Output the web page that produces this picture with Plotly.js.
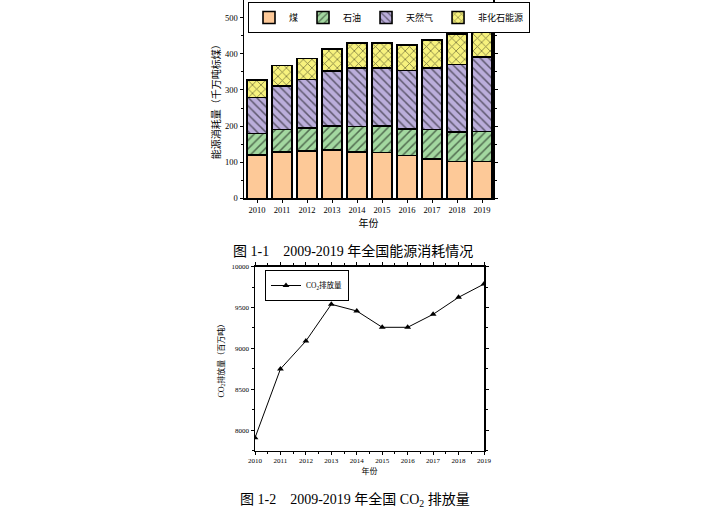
<!DOCTYPE html>
<html>
<head>
<meta charset="utf-8">
<script src="https://cdn.plot.ly/plotly-3.0.1.min.js"></script>
<style>html,body{margin:0;padding:0;background:#fff;}#chart{width:715px;height:518px;}</style>
</head>
<body>
<div id="chart"></div>
<script>
// Figure 1-1: energy consumption (ten-million tonnes of standard coal)
const years = ['2010','2011','2012','2013','2014','2015','2016','2017','2018','2019'];
const coal    = [120, 129, 131, 133, 129, 127, 118, 109, 102, 102];
const oil     = [59, 61, 63, 68, 70, 74, 74, 81, 81, 83];
const gas     = [100, 121, 135, 151, 162, 160, 162, 171, 187, 206];
const nonFossil = [48, 57, 58, 62, 69, 69, 70, 78, 85, 88];
const seriesNames = ['煤', '石油', '天然气', '非化石能源'];

// Figure 1-2: CO2 emissions (million tonnes)
const co2Years = [2010, 2011, 2012, 2013, 2014, 2015, 2016, 2017, 2018, 2019];
const co2 = [7905, 8748, 9090, 9540, 9458, 9258, 9258, 9417, 9625, 9788];

const serif = 'Liberation Serif, Times New Roman, Noto Sans CJK SC, serif';

function barTrace(name, vals, color, shape) {
  return {
    type: 'bar', name: name, x: years, y: vals, xaxis: 'x', yaxis: 'y',
    width: 0.8,
    marker: {
      color: color,
      line: {color: '#000', width: 1.6},
      pattern: shape ? {shape: shape, fillmode: 'overlay', fgcolor: '#000', size: 6, solidity: 0.25} : undefined
    },
    legend: 'legend'
  };
}

const traces = [
  barTrace(seriesNames[0], coal, '#FDC998', ''),
  barTrace(seriesNames[1], oil, '#A3D8A0', '/'),
  barTrace(seriesNames[2], gas, '#BBAEDB', '\\'),
  barTrace(seriesNames[3], nonFossil, '#F7F27E', 'x'),
  {
    type: 'scatter', mode: 'lines+markers', name: 'CO<sub>2</sub>排放量',
    x: co2Years, y: co2, xaxis: 'x2', yaxis: 'y2',
    line: {color: '#000', width: 1},
    marker: {symbol: 'triangle-up', size: 6, color: '#000'},
    legend: 'legend2'
  }
];

const layout = {
  width: 715, height: 518,
  margin: {l: 0, r: 0, t: 0, b: 0},
  paper_bgcolor: '#fff', plot_bgcolor: '#fff',
  font: {family: serif, color: '#000', size: 9},
  barmode: 'stack',
  bargap: 0.2,
  xaxis: {
    domain: [244/715, 493/715], anchor: 'y', type: 'category',
    range: [-0.52, 9.44],
    showline: true, linecolor: '#000', linewidth: 1.5, mirror: 'ticks',
    ticks: 'outside', ticklen: 3, tickwidth: 1, tickcolor: '#000',
    tickfont: {size: 8.5, family: serif},
    title: {text: '年份', font: {size: 10, family: serif}, standoff: 6},
    showgrid: false, zeroline: false
  },
  yaxis: {
    domain: [1 - 198.3/518, 1], anchor: 'x',
    range: [0, 549],
    dtick: 100, tick0: 0,
    showline: true, linecolor: '#000', linewidth: 1.5, mirror: 'ticks',
    ticks: 'outside', ticklen: 3, tickwidth: 1, tickcolor: '#000',
    minor: {ticks: 'outside', ticklen: 2, dtick: 50, tickcolor: '#000'},
    tickfont: {size: 8.5, family: serif},
    title: {text: '能源消耗量（千万吨标煤）', font: {size: 10, family: serif}, standoff: 2},
    showgrid: false, zeroline: false
  },
  xaxis2: {
    domain: [255/715, 484/715], anchor: 'y2',
    range: [2010, 2019], dtick: 1, tick0: 2010,
    showline: true, linecolor: '#000', linewidth: 1.5, mirror: 'ticks',
    ticks: 'outside', ticklen: 3, tickwidth: 1, tickcolor: '#000',
    minor: {ticks: 'outside', ticklen: 2, dtick: 0.5, tickcolor: '#000'},
    tickfont: {size: 7, family: serif},
    title: {text: '年份', font: {size: 8, family: serif}, standoff: 4},
    showgrid: false, zeroline: false
  },
  yaxis2: {
    domain: [1 - 450.5/518, 1 - 266.7/518], anchor: 'x2',
    range: [7750, 10000], dtick: 500, tick0: 8000,
    showline: true, linecolor: '#000', linewidth: 1.5, mirror: 'ticks',
    ticks: 'outside', ticklen: 3, tickwidth: 1, tickcolor: '#000',
    minor: {ticks: 'outside', ticklen: 2, dtick: 250, tickcolor: '#000'},
    tickfont: {size: 7, family: serif},
    tickformat: 'd',
    title: {text: 'CO<sub>2</sub>排放量（百万吨）', font: {size: 8, family: serif}, standoff: 6},
    showgrid: false, zeroline: false
  },
  legend: {
    orientation: 'h', x: 248/715, y: 1 - 2/518, xanchor: 'left', yanchor: 'top',
    bgcolor: '#fff', bordercolor: '#000', borderwidth: 1,
    font: {size: 9, family: serif}, traceorder: 'normal',
    itemwidth: 30, tracegroupgap: 0
  },
  legend2: {
    x: 265/715, y: 1 - 270/518, xanchor: 'left', yanchor: 'top',
    bgcolor: '#fff', bordercolor: '#000', borderwidth: 1,
    font: {size: 7.5, family: serif}
  },
  annotations: [
    {text: '图 1-1    2009-2019 年全国能源消耗情况', xref: 'paper', yref: 'paper',
     x: 353/715, y: 1 - 251/518, xanchor: 'center', yanchor: 'middle', showarrow: false,
     font: {size: 14, family: serif}},
    {text: '图 1-2    2009-2019 年全国 CO<sub>2</sub> 排放量', xref: 'paper', yref: 'paper',
     x: 355/715, y: 1 - 500/518, xanchor: 'center', yanchor: 'middle', showarrow: false,
     font: {size: 14, family: serif}}
  ]
};

Plotly.newPlot('chart', traces, layout, {displayModeBar: false, staticPlot: true});
</script>
</body>
</html>
